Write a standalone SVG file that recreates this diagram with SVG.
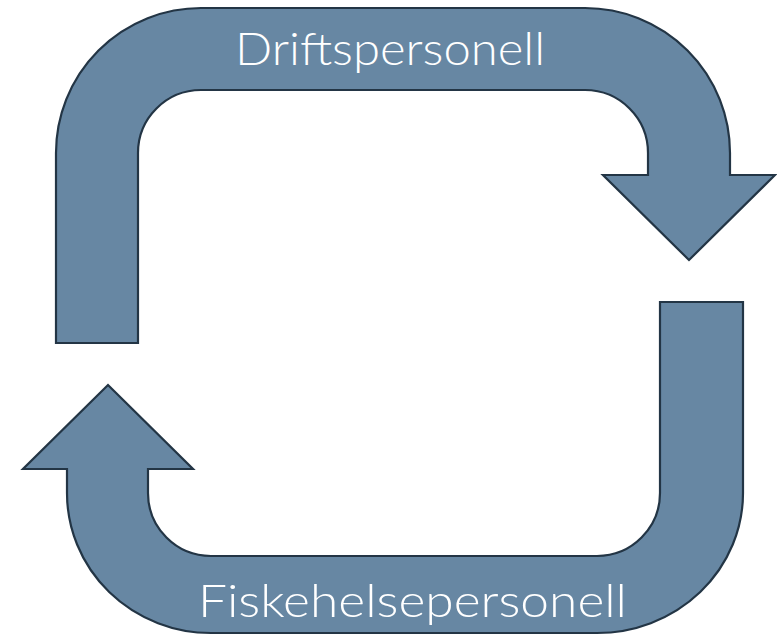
<svg xmlns="http://www.w3.org/2000/svg" width="777" height="636" viewBox="0 0 777 636">
<style>
.arrow{fill:#6787A3;stroke:#233545;stroke-width:2.2;stroke-linejoin:miter}
.lbl{fill:#FFFFFF;font-family:Lato,"Open Sans","Liberation Sans",sans-serif;font-weight:300;font-size:46px;text-anchor:start}
</style>
<rect width="777" height="636" fill="#FFFFFF"/>
<g id="connectors">
<g id="arrow-top">
<path class="arrow" d="M56,343 L56,153 A145,145 0 0 1 201,8 L585,8 A145,145 0 0 1 730,153 L730,175 L775,175 L689,260 L603,175 L648,175 L648,153 A63,63 0 0 0 585,90 L201,90 A63,63 0 0 0 138,153 L138,343 Z"/>
</g>
<g id="arrow-bottom">
<path class="arrow" d="M743,302 L743,493 A146,140 0 0 1 597,633 L211,633 A144,140 0 0 1 67,493 L67,469 L23,469 L108,385 L193,469 L148,469 L148,493 A63,63 0 0 0 211,556 L597,556 A63,63 0 0 0 660,493 L660,302 Z"/>
</g>
</g>
<g id="node-driftspersonell">
<text class="lbl" x="235" y="65" textLength="310" lengthAdjust="spacingAndGlyphs">Driftspersonell</text>
</g>
<g id="node-fiskehelsepersonell">
<text class="lbl" x="198" y="617" textLength="429" lengthAdjust="spacingAndGlyphs">Fiskehelsepersonell</text>
</g>
</svg>
